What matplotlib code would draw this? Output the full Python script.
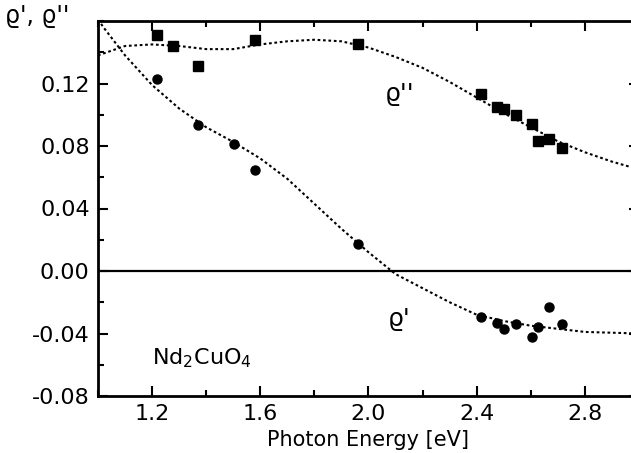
import numpy as np
import matplotlib
matplotlib.use("Agg")
import matplotlib.pyplot as plt
from matplotlib.ticker import MultipleLocator

plt.rcParams['font.family'] = ['DejaVu Sans']

# measured points, rho'' (squares)
e_sq = [1.218, 1.278, 1.37, 1.58, 1.96, 2.415, 2.474, 2.50, 2.544, 2.604, 2.626, 2.667, 2.715]
rho2 = [0.151, 0.144, 0.131, 0.148, 0.145, 0.113, 0.105, 0.104, 0.100, 0.094, 0.083, 0.0845, 0.0787]

# measured points, rho' (circles)
e_ci = [1.218, 1.37, 1.504, 1.58, 1.963, 2.415, 2.474, 2.50, 2.544, 2.604, 2.626, 2.667, 2.715]
rho1 = [0.123, 0.0934, 0.081, 0.0646, 0.0173, -0.0294, -0.033, -0.037, -0.034, -0.042, -0.036, -0.023, -0.034]

# dotted fit curves
fit2_x = [1.0, 1.05, 1.1, 1.2, 1.3, 1.4, 1.5, 1.6, 1.7, 1.8, 1.9, 2.0, 2.1, 2.2,
          2.3, 2.4, 2.5, 2.6, 2.7, 2.8, 2.9, 3.0]
fit2_y = [0.138, 0.141, 0.144, 0.145, 0.144, 0.142, 0.142, 0.145, 0.147, 0.148, 0.147,
          0.143, 0.137, 0.130, 0.121, 0.111, 0.101, 0.092, 0.083, 0.076, 0.070, 0.065]
fit1_x = [1.0, 1.02, 1.1, 1.2, 1.3, 1.4, 1.5, 1.6, 1.7, 1.8, 1.9, 2.0, 2.1, 2.2,
          2.3, 2.4, 2.5, 2.6, 2.7, 2.8, 2.9, 3.0]
fit1_y = [0.161, 0.156, 0.138, 0.119, 0.104, 0.092, 0.0826, 0.072, 0.059, 0.043, 0.027,
          0.012, -0.002, -0.011, -0.020, -0.028, -0.032, -0.035, -0.037, -0.039, -0.0395, -0.040]

fig = plt.figure(figsize=(6.31, 4.53), dpi=100)
ax = fig.add_axes([98 / 631, 1 - 396 / 453, (639 - 98) / 631, 375 / 453])

ax.plot(fit2_x, fit2_y, color='black', lw=1.5, ls=(0, (1.3, 1.3)))
ax.plot(fit1_x, fit1_y, color='black', lw=1.5, ls=(0, (1.3, 1.3)))
ax.axhline(0, color='black', lw=1.6)
ax.plot(e_sq, rho2, 's', color='black', ms=7)
ax.plot(e_ci, rho1, 'o', color='black', ms=6.5)

ax.set_xlim(1.0, 3.0)
ax.set_ylim(-0.08, 0.16)
ax.xaxis.set_minor_locator(MultipleLocator(0.2))
ax.yaxis.set_minor_locator(MultipleLocator(0.02))
ax.set_xticks([1.2, 1.6, 2.0, 2.4, 2.8])
ax.set_xticklabels(['1.2', '1.6', '2.0', '2.4', '2.8'])
ax.set_yticks([-0.08, -0.04, 0.0, 0.04, 0.08, 0.12])
ax.set_yticklabels(['-0.08', '-0.04', '0.00', '0.04', '0.08', '0.12'])
ax.tick_params(which='both', direction='in', top=True, right=True, labelsize=16, width=1.5)
ax.tick_params(which='major', length=7, pad=6)
ax.tick_params(which='minor', length=4)
for s in ax.spines.values():
    s.set_linewidth(2)

ax.set_xlabel('Photon Energy [eV]', fontsize=15, labelpad=4)
fig.text(5 / 631, 1 - 16 / 453, "\u03f1', \u03f1''", fontsize=17, va='center', ha='left')
ax.text(2.06, 0.113, "\u03f1''", fontsize=18, ha='left', va='center')
ax.text(2.07, -0.031, "\u03f1'", fontsize=18, ha='left', va='center')
ax.text(1.2, -0.056, r'Nd$_2$CuO$_4$', fontsize=16, ha='left', va='center')

fig.savefig('out.png', dpi=100)
